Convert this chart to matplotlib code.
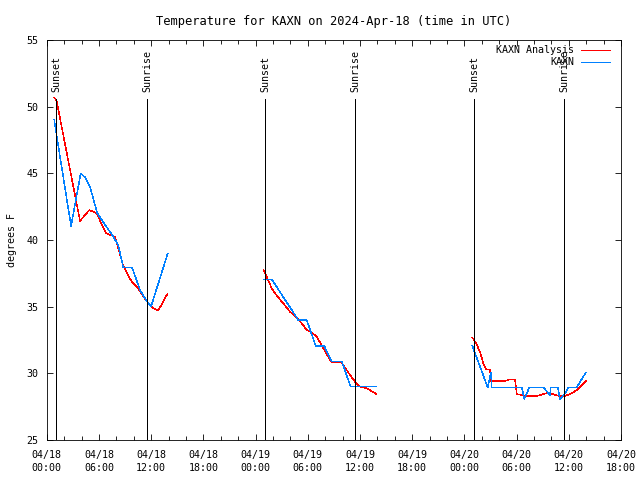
import numpy as np
import matplotlib
matplotlib.use("Agg")
import matplotlib.pyplot as plt
import matplotlib.dates as mdates
import matplotlib.transforms as mtransforms

# ---- data (hours after 2024-04-18 00:00 UTC, temperatures in F) ----
analysis_h1 = [0.87, 1.15, 3.83, 4.90, 5.75, 6.81, 7.85, 8.80, 9.77, 10.52, 11.10, 11.56, 11.99, 12.82, 13.86]
analysis_t1 = [50.7, 50.4, 41.43, 42.25, 41.99, 40.50, 40.25, 38.05, 36.87, 36.38, 35.75, 35.37, 35.0, 34.70, 35.95]
analysis_h2 = [24.90, 25.86, 26.24, 27.96, 28.73, 29.31, 29.88, 30.34, 31.03, 31.79, 32.75, 33.91, 34.86, 35.43, 36.01, 36.78, 37.92]
analysis_t2 = [37.80, 36.38, 36.0, 34.62, 34.20, 33.75, 33.25, 33.12, 32.75, 31.88, 30.80, 30.80, 29.87, 29.37, 29.0, 28.88, 28.43]
analysis_h3 = [48.91, 49.34, 49.79, 50.18, 50.49, 50.95, 51.03, 52.67, 53.24, 53.82, 54.02, 55.17, 56.31, 57.65, 58.42, 59.00, 59.57, 60.34, 60.91, 61.95]
analysis_t3 = [32.70, 32.25, 31.62, 30.75, 30.30, 30.30, 29.42, 29.42, 29.55, 29.55, 28.45, 28.30, 28.30, 28.55, 28.38, 28.30, 28.30, 28.50, 28.75, 29.42]

obs_h1 = [0.87, 1.15, 2.80, 3.91, 4.41, 4.98, 5.81, 7.65, 8.23, 8.80, 9.80, 10.73, 11.30, 11.99, 13.91]
obs_t1 = [49.0, 47.8, 41.05, 45.0, 44.7, 44.0, 42.0, 40.25, 39.6, 37.95, 37.95, 36.25, 35.63, 35.0, 39.0]
obs_h2 = [24.90, 25.86, 28.91, 29.88, 30.92, 31.90, 32.75, 33.91, 34.93, 37.92]
obs_t2 = [37.05, 37.05, 34.0, 34.0, 32.05, 32.05, 30.9, 30.9, 29.0, 29.0]
obs_h3 = [48.91, 50.68, 51.06, 51.14, 54.59, 54.89, 55.47, 57.07, 57.84, 57.92, 58.73, 58.99, 59.57, 59.95, 60.91, 61.95]
obs_t3 = [32.07, 28.95, 30.05, 28.95, 28.95, 28.08, 28.95, 28.95, 28.37, 28.95, 28.95, 28.08, 28.5, 28.95, 28.95, 30.05]

sun_events_h = [1.07, 11.56, 25.13, 35.47, 49.14, 59.49]
sun_labels = ["Sunset", "Sunrise", "Sunset", "Sunrise", "Sunset", "Sunrise"]

title = "Temperature for KAXN on 2024-Apr-18 (time in UTC)"
legend_labels = ["KAXN Analysis", "KAXN"]
colors = ["#ff0000", "#0080ff"]

base = np.datetime64("2024-04-18T00:00")
x_end_h = 66


def to_dt(hours):
    return base + (np.array(hours) * 3600).astype("timedelta64[s]")


plt.rcParams["font.family"] = ["DejaVu Sans Mono"]
plt.rcParams["font.size"] = 7.2
plt.rcParams["lines.antialiased"] = False

LW = 0.6
DLW = 0.35

fig = plt.figure(figsize=(6.4, 4.8), dpi=100)
ax = fig.add_axes([46.7 / 640, 40 / 480, (621 - 46.7) / 640, 400 / 480])

for h, t in [(analysis_h1, analysis_t1), (analysis_h2, analysis_t2), (analysis_h3, analysis_t3)]:
    ax.plot(to_dt(h), t, color=colors[0], lw=DLW)
for h, t in [(obs_h1, obs_t1), (obs_h2, obs_t2), (obs_h3, obs_t3)]:
    ax.plot(to_dt(h), t, color=colors[1], lw=DLW)

trans = mtransforms.blended_transform_factory(ax.transData, ax.transAxes)
for h, lab in zip(sun_events_h, sun_labels):
    xd = mdates.date2num(to_dt([h])[0])
    ax.plot([xd, xd], [0, 0.8525], color="black", lw=LW, transform=trans)
    ax.text(xd, 0.87, lab, rotation=90, ha="center", va="bottom", transform=trans)

# legend (gnuplot style)
for i, (lab, c) in enumerate(zip(legend_labels, colors)):
    yy = 0.975 - 0.03 * i
    ax.text(0.918, yy, lab, ha="right", va="center", transform=ax.transAxes)
    ax.plot([0.930, 0.981], [yy, yy], color=c, lw=LW, transform=ax.transAxes)

ax.set_xlim(to_dt([0])[0], to_dt([x_end_h])[0])
ax.set_ylim(25, 55)
ax.set_yticks([25, 30, 35, 40, 45, 50, 55])
ax.xaxis.set_major_locator(mdates.HourLocator(byhour=[0, 6, 12, 18]))
ax.xaxis.set_minor_locator(mdates.HourLocator(byhour=range(0, 24, 2)))
ax.xaxis.set_major_formatter(mdates.DateFormatter("%m/%d\n%H:%M"))
for lab in ax.get_xticklabels():
    lab.set_linespacing(1.35)
ax.tick_params(which="both", direction="in", top=True, right=True, width=LW)
ax.tick_params(which="major", length=4.5)
ax.tick_params(which="minor", length=3)
ax.tick_params(axis="x", pad=7)
ax.tick_params(axis="y", pad=6)
for s in ax.spines.values():
    s.set_linewidth(LW)

ax.set_ylabel("degrees F", labelpad=7)
ax.set_title(title, pad=11)

fig.savefig("out.png", dpi=100)
